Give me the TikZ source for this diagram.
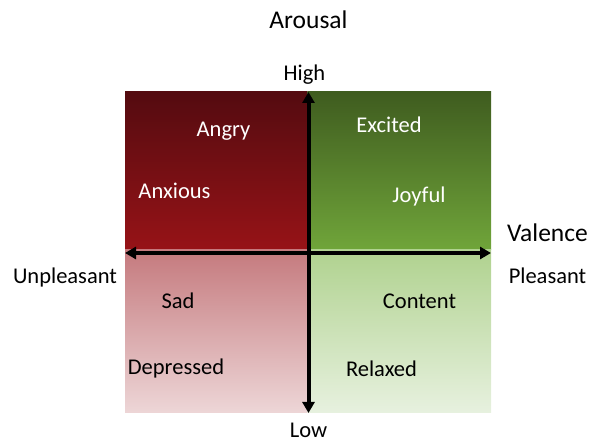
\documentclass[tikz,border=0pt]{standalone}
\usepackage{fontspec}
\setmainfont{Carlito}
\usetikzlibrary{arrows.meta}
\definecolor{tlTop}{HTML}{540B10}
\definecolor{tlBot}{HTML}{971317}
\definecolor{trTop}{HTML}{3F5C1F}
\definecolor{trBot}{HTML}{70A53A}
\definecolor{blTop}{HTML}{C57A7E}
\definecolor{blBot}{HTML}{EDD6D7}
\definecolor{brTop}{HTML}{B0D28F}
\definecolor{brBot}{HTML}{E7F1DF}
\begin{document}
\begin{tikzpicture}[x=1pt,y=-1pt,
  lbl/.style={anchor=base,inner sep=0pt,font=\fontsize{22.5}{25}\selectfont},
  head/.style={anchor=base,inner sep=0pt,font=\fontsize{25.5}{28}\selectfont},
  light/.style={lbl,text=white},
  axis/.style={line width=4pt,{Triangle[length=11pt,width=12pt]}-{Triangle[length=11pt,width=12pt]}},
  axisone/.style={line width=4pt,-{Triangle[length=11pt,width=12pt]}}]
\useasboundingbox (0,0) rectangle (598,443);
% quadrants
\shade[top color=tlTop,bottom color=tlBot] (125,92) rectangle (307.5,250);
\shade[top color=trTop,bottom color=trBot] (307.5,92) rectangle (491,250);
\shade[top color=blTop,bottom color=blBot] (125,250) rectangle (307.5,413);
\shade[top color=brTop,bottom color=brBot] (307.5,250) rectangle (491,413);
% axes
\coordinate (L) at (125,253);
\coordinate (R) at (491,253);
\coordinate (T) at (308.5,92);
\coordinate (B) at (308.5,413);
\coordinate (C) at (308.5,253);
\draw[axis] (L) -- (R);
\draw[axisone] (C) -- (T);
\draw[axisone] (C) -- (B);
% axis labels
\node[head] (arousal) at (308.5,29) {Arousal};
\node[lbl] (high) at (304.5,81) {High};
\node[lbl] (low) at (308.5,438) {Low};
\node[head] (valence) at (547.5,242) {Valence};
\node[lbl] (unpl) at (65,284) {Unpleasant};
\node[lbl] (pleas) at (547.5,284) {Pleasant};
% emotions
\node[light] (angry) at (223.5,137) {Angry};
\node[light] (excited) at (389,133) {Excited};
\node[light] (anxious) at (174.5,199) {Anxious};
\node[light] (joyful) at (419,203) {Joyful};
\node[lbl] (sad) at (178,309) {Sad};
\node[lbl] (content) at (419.5,309) {Content};
\node[lbl] (depressed) at (176,375) {Depressed};
\node[lbl] (relaxed) at (381.5,377) {Relaxed};
\end{tikzpicture}
\end{document}
